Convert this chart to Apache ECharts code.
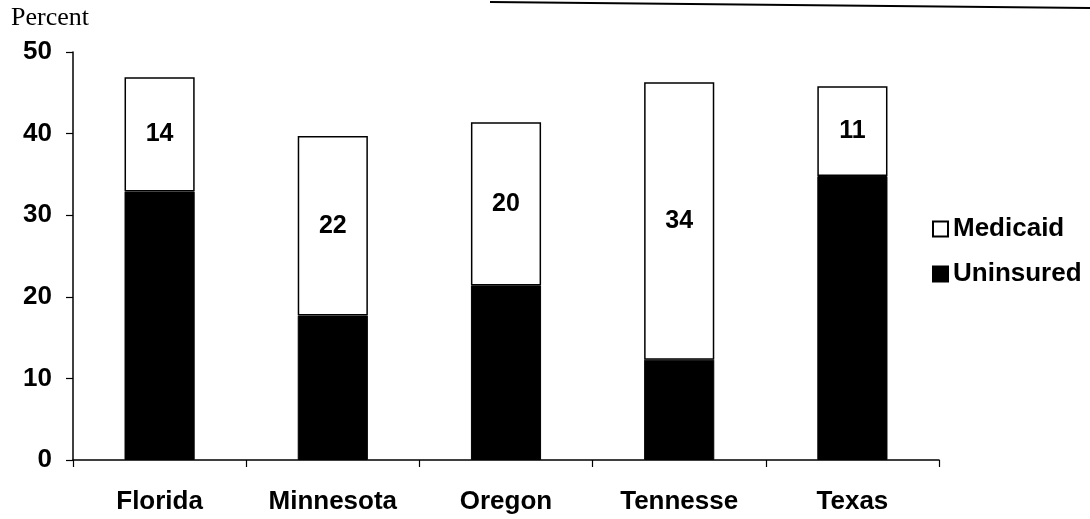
<!DOCTYPE html>
<html>
<head>
<meta charset="utf-8">
<script src="https://cdn.jsdelivr.net/npm/echarts@6/dist/echarts.min.js"></script>
<style>
html,body{margin:0;padding:0;background:#fff;}
#c{width:1090px;height:519px;}
</style>
</head>
<body>
<div id="c"></div>
<script>
const categories = ['Florida', 'Minnesota', 'Oregon', 'Tennesse', 'Texas'];
const uninsured = [32.9, 17.7, 21.4, 12.3, 34.8];
const medicaid = [14, 22, 20, 34, 11];
const yTicks = [0, 10, 20, 30, 40, 50];

const chart = echarts.init(document.getElementById('c'));
const boldFont = '"Liberation Sans", Arial, sans-serif';
chart.setOption({
  animation: false,
  backgroundColor: '#fff',
  grid: { left: 73, right: 151, top: 52, bottom: 59 },
  graphic: [
    { type: 'text', left: 11, top: 5,
      style: { text: 'Percent', font: '26px "Liberation Serif", "Times New Roman", serif', fill: '#000' } },
    { type: 'line', shape: { x1: 490, y1: 2, x2: 1090, y2: 8 },
      style: { stroke: '#000', lineWidth: 2 } }
  ],
  legend: {
    orient: 'vertical',
    left: 927,
    top: 211,
    itemWidth: 15,
    itemHeight: 15,
    itemGap: 19,
    icon: 'rect',
    data: ['Medicaid', 'Uninsured'],
    textStyle: { fontFamily: boldFont, fontWeight: 'bold', fontSize: 26, color: '#000' }
  },
  xAxis: {
    type: 'category',
    data: categories,
    axisLine: { lineStyle: { color: '#000', width: 1.5 } },
    axisTick: { show: true, length: 7, lineStyle: { color: '#000', width: 1.2 } },
    axisLabel: { margin: 29, fontFamily: boldFont, fontWeight: 'bold', fontSize: 26, color: '#000' }
  },
  yAxis: {
    type: 'value',
    min: 0,
    max: 50,
    interval: 10,
    splitLine: { show: false },
    axisLine: { show: true, lineStyle: { color: '#000', width: 1.5 } },
    axisTick: { show: true, length: 7, lineStyle: { color: '#000', width: 1.2 } },
    axisLabel: {
      margin: 21, fontFamily: boldFont, fontWeight: 'bold', fontSize: 26, color: '#000',
      formatter: v => yTicks.includes(v) ? String(v) : ''
    }
  },
  series: [
    {
      name: 'Uninsured', type: 'bar', stack: 's', data: uninsured,
      barWidth: '40.5%',
      itemStyle: { color: '#000', borderColor: '#000', borderWidth: 1 }
    },
    {
      name: 'Medicaid', type: 'bar', stack: 's', data: medicaid,
      barWidth: '40.5%',
      itemStyle: { color: '#fff', borderColor: '#000', borderWidth: 1.5 },
      label: {
        show: true, position: 'inside', color: '#000',
        fontFamily: boldFont, fontWeight: 'bold', fontSize: 25,
        formatter: p => String(p.value)
      }
    }
  ]
});
</script>
</body>
</html>
